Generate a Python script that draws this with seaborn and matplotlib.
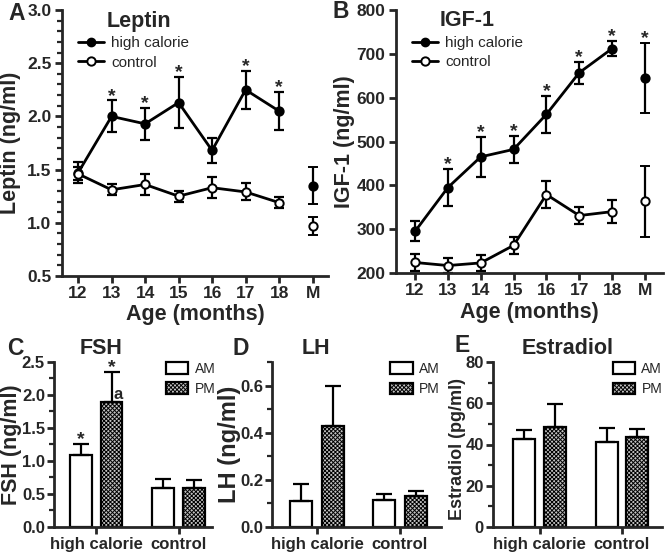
import pandas as pd
import matplotlib
matplotlib.use("Agg")
import matplotlib.pyplot as plt
import seaborn as sns
from matplotlib.lines import Line2D
from matplotlib.patches import Patch
from matplotlib.ticker import MultipleLocator

# Values (mean and SEM)
months = [12, 13, 14, 15, 16, 17, 18]
month_labels = ["12", "13", "14", "15", "16", "17", "18", "M"]

leptin_hc = [1.47, 2.00, 1.93, 2.13, 1.68, 2.25, 2.05]
leptin_hc_err = [0.10, 0.15, 0.15, 0.24, 0.12, 0.18, 0.18]
leptin_ctrl = [1.46, 1.31, 1.36, 1.25, 1.33, 1.29, 1.19]
leptin_ctrl_err = [0.06, 0.05, 0.10, 0.05, 0.10, 0.08, 0.05]
leptin_m = [1.35, 0.97]
leptin_m_err = [0.17, 0.08]
leptin_stars = [13, 14, 15, 17, 18]

igf_hc = [295, 395, 465, 482, 562, 657, 712]
igf_hc_err = [23, 43, 45, 31, 42, 25, 18]
igf_ctrl = [224, 217, 223, 263, 379, 331, 340]
igf_ctrl_err = [20, 17, 18, 20, 31, 20, 26]
igf_m = [645, 364]
igf_m_err = [80, 81]
igf_stars = [13, 14, 15, 16, 17, 18, "M"]

groups = ["high calorie", "high calorie", "control", "control"]
times = ["AM", "PM", "AM", "PM"]
fsh = [1.08, 1.89, 0.58, 0.59]
fsh_err = [0.17, 0.45, 0.14, 0.12]
lh = [0.112, 0.428, 0.115, 0.133]
lh_err = [0.07, 0.17, 0.023, 0.02]
estradiol = [42.8, 48.3, 41.4, 43.6]
estradiol_err = [4.4, 11.5, 6.6, 4.1]

sns.set_style("ticks")
plt.rcParams["font.family"] = ["Liberation Sans", "DejaVu Sans"]
plt.rcParams["font.weight"] = "bold"
plt.rcParams["hatch.linewidth"] = 0.7

PM_FACE = "#c4c4c4"
PM_HATCH = "xxxxxxxx"

W, H = 667, 557
fig = plt.figure(figsize=(W / 100, H / 100), dpi=100)


def px_axes(left, right, top, bottom):
    return fig.add_axes([left / W, 1 - bottom / H, (right - left) / W, (bottom - top) / H])


def px_text(x, y, s, size, weight="bold"):
    fig.text(x / W, 1 - y / H, s, fontsize=size, fontweight=weight, va="baseline", ha="left")


def style_axes(ax, tick_size, pad=2.5):
    sns.despine(ax=ax)
    for side in ["left", "bottom"]:
        ax.spines[side].set_linewidth(2)
    ax.tick_params(which="major", direction="out", width=2, length=5, pad=pad, labelsize=tick_size)
    ax.tick_params(which="minor", direction="out", width=1.6, length=3.5)
    ax.tick_params(axis="x", which="minor", length=0)


def line_panel(ax, hc, hc_err, ctrl, ctrl_err, m, m_err, stars, ylim, ymajor, yminor, ylabel):
    xm = months[-1] + 1
    for vals, errs, mval, merr, face in [(hc, hc_err, m[0], m_err[0], "black"),
                                         (ctrl, ctrl_err, m[1], m_err[1], "white")]:
        sub = pd.DataFrame({"month": months, "value": vals})
        ax.errorbar(sub["month"], sub["value"], yerr=errs, fmt="none", ecolor="black",
                    elinewidth=1.6, capsize=3.5, capthick=1.6, zorder=2)
        sns.lineplot(data=sub, x="month", y="value", color="black", lw=2, marker="o",
                     markersize=6, markerfacecolor=face, markeredgecolor="black",
                     markeredgewidth=1.4, ax=ax, zorder=3)
        ax.errorbar([xm], [mval], yerr=[merr], fmt="o", color="black", ms=6, mfc=face,
                    mec="black", mew=1.4, elinewidth=1.6, capsize=3.5, capthick=1.6, zorder=3)
    for s in stars:
        if s == "M":
            x, top = xm, m[0] + m_err[0]
        else:
            i = months.index(s)
            x, top = s, hc[i] + hc_err[i]
        ax.annotate("*", (x, top), xytext=(0, -3), textcoords="offset points",
                    ha="center", va="bottom", fontsize=14, fontweight="bold")
    ax.set_xticks(months + [xm])
    ax.set_xticklabels(month_labels)
    ax.set_ylim(*ylim)
    ax.yaxis.set_major_locator(MultipleLocator(ymajor))
    if yminor:
        ax.yaxis.set_minor_locator(MultipleLocator(yminor))
    ax.set_xlabel("Age (months)", fontsize=15.5, fontweight="bold")
    ax.set_ylabel(ylabel, fontsize=15.5, fontweight="bold")
    style_axes(ax, 12.5)
    handles = [Line2D([], [], color="black", lw=2, marker="o", ms=6, mfc="black", mec="black"),
               Line2D([], [], color="black", lw=2, marker="o", ms=6, mfc="white", mec="black", mew=1.4)]
    ax.legend(handles, ["high calorie", "control"], loc="upper left",
              bbox_to_anchor=(0.03, 0.93), frameon=False, handlelength=1.7,
              handletextpad=0.5, labelspacing=0.35, borderpad=0,
              prop={"size": 11, "weight": "normal"})


def bar_panel(ax, vals, errs, ylim, ymajor, yminor, fmt, xlim, ylabel, label_size, leg_x):
    df = pd.DataFrame({"group": groups, "time": times, "value": vals})
    sns.barplot(data=df, x="group", y="value", hue="time", hue_order=["AM", "PM"],
                palette={"AM": "white", "PM": PM_FACE}, edgecolor="black", linewidth=1.6,
                width=0.75, gap=0.29, errorbar=None, legend=False, ax=ax)
    bars = sorted(ax.patches, key=lambda p: p.get_x())
    for p, err in zip(bars, errs):
        if p.get_facecolor()[0] < 0.9:
            p.set_hatch(PM_HATCH)
        cx = p.get_x() + p.get_width() / 2
        ax.errorbar([cx], [p.get_height()], yerr=[[0], [err]], fmt="none", ecolor="black",
                    elinewidth=1.6, capsize=6, capthick=1.6, zorder=1)
    ax.set_xlim(*xlim)
    ax.set_ylim(*ylim)
    ax.yaxis.set_major_locator(MultipleLocator(ymajor))
    ax.yaxis.set_minor_locator(MultipleLocator(yminor))
    ax.yaxis.set_major_formatter(fmt)
    ax.set_xlabel("")
    ax.set_ylabel(ylabel, fontsize=label_size, fontweight="bold")
    style_axes(ax, 12, pad=1.5)
    ax.tick_params(axis="x", labelsize=12, pad=2.5)
    handles = [Patch(facecolor="white", edgecolor="black", lw=1.6),
               Patch(facecolor=PM_FACE, edgecolor="black", lw=1.6, hatch=PM_HATCH)]
    ax.legend(handles, ["AM", "PM"], loc="upper left", bbox_to_anchor=(leg_x, 1.0),
              frameon=False, handlelength=1.6, handleheight=0.9, handletextpad=0.45,
              labelspacing=0.45, borderpad=0, borderaxespad=0,
              prop={"size": 10, "weight": "normal"})
    return bars


# Leptin
axA = px_axes(62, 328, 10, 276)
line_panel(axA, leptin_hc, leptin_hc_err, leptin_ctrl, leptin_ctrl_err, leptin_m, leptin_m_err,
           leptin_stars, (0.5, 3.0), 0.5, 0.1, "Leptin (ng/ml)")
axA.set_xlim(11.52, 19.46)
axA.yaxis.set_major_formatter("{x:.1f}")
axA.yaxis.set_label_coords(-0.155, 0.5)
axA.xaxis.set_label_coords(0.5, -0.105)

# IGF-1
axB = px_axes(396, 663, 10, 273)
line_panel(axB, igf_hc, igf_hc_err, igf_ctrl, igf_ctrl_err, igf_m, igf_m_err,
           igf_stars, (200, 800), 100, None, "IGF-1 (ng/ml)")
axB.set_xlim(11.42, 19.55)
axB.yaxis.set_label_coords(-0.155, 0.5)
axB.xaxis.set_label_coords(0.5, -0.11)

# FSH
axC = px_axes(54, 212, 361.7, 526.7)
barsC = bar_panel(axC, fsh, fsh_err, (0, 2.5), 0.5, 0.25, "{x:.1f}", (-0.51, 1.406),
                  "FSH (ng/ml)", 15.5, 0.71)
for p, err in zip(barsC[:2], fsh_err[:2]):
    cx = p.get_x() + p.get_width() / 2
    axC.annotate("*", (cx, p.get_height() + err), xytext=(0, -3), textcoords="offset points",
                 ha="center", va="bottom", fontsize=14, fontweight="bold")
pm = barsC[1]
axC.annotate("a", (pm.get_x() + pm.get_width(), pm.get_height()), xytext=(0, 0),
             textcoords="offset points", ha="right", va="bottom", fontsize=12, fontweight="bold")
axC.yaxis.set_label_coords(-0.20, 0.5)

# LH
axD = px_axes(272, 441, 362, 527)
bar_panel(axD, lh, lh_err, (0, 0.7), 0.2, 0.1, "{x:.1f}", (-0.542, 1.494),
          "LH (ng/ml)", 17, 0.70)
axD.yaxis.set_label_coords(-0.185, 0.5)

# Estradiol
axE = px_axes(493, 662, 362, 527)
bar_panel(axE, estradiol, estradiol_err, (0, 80), 20, 10, "{x:.0f}", (-0.564, 1.485),
          "Estradiol (pg/ml)", 13, 0.71)
axE.yaxis.set_label_coords(-0.16, 0.47)

# panel letters and titles
px_text(8, 20, "A", 16.5)
px_text(333, 18, "B", 16.5)
px_text(7, 355, "C", 16.5)
px_text(232, 355, "D", 16.5)
px_text(455, 352, "E", 16.5)
px_text(107, 27, "Leptin", 15.5)
px_text(440, 26, "IGF-1", 15.5)
px_text(80, 354, "FSH", 15.5)
px_text(302, 354, "LH", 15.5)
px_text(522, 354, "Estradiol", 15.5)

fig.savefig("out.png", dpi=100)
